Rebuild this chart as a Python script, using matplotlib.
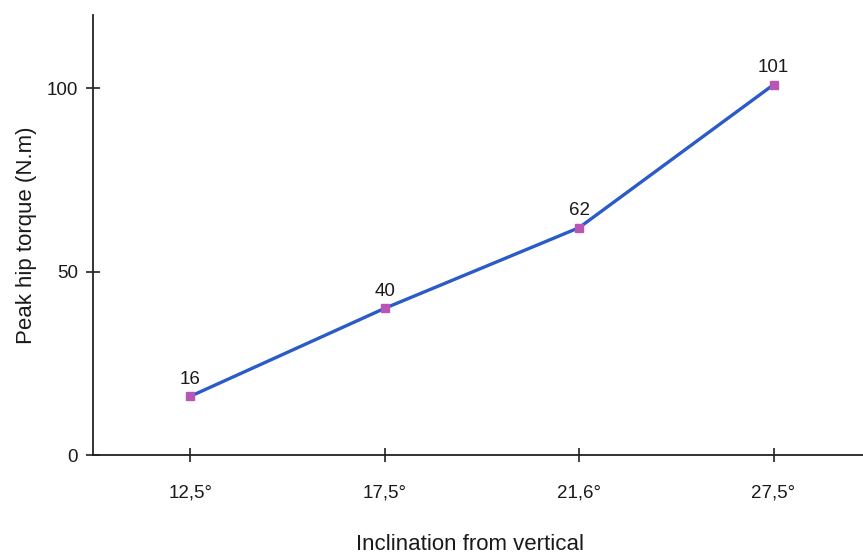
import matplotlib
matplotlib.use("Agg")
import matplotlib.pyplot as plt

categories = ["12,5°", "17,5°", "21,6°", "27,5°"]
torque = [16, 40, 62, 101]
yticks = [0, 50, 100]

plt.rcParams['font.family'] = ['Liberation Sans', 'DejaVu Sans']

fig = plt.figure(figsize=(8.63, 5.58), dpi=100)
ax = fig.add_axes([93/863, 1-455/558, 1-93/863, (455-15)/558])

x = list(range(len(categories)))
ax.plot(x, torque, color="#2a5bc8", lw=2.4, zorder=3)
ax.plot(x, torque, ls="none", marker="s", ms=6, color="#b955b5", zorder=4)
for xi, v in zip(x, torque):
    ax.annotate(str(v), (xi, v), xytext=(0, 6), textcoords="offset points",
                ha="center", va="bottom", fontsize=13.5, color="#1a1a1a")

ax.set_xlim(-0.5, 3.46)
ax.set_ylim(0, 120)
ax.set_xticks(x)
ax.set_xticklabels(categories)
ax.set_yticks(yticks)

for s in ["top", "right"]:
    ax.spines[s].set_visible(False)
for s in ["left", "bottom"]:
    ax.spines[s].set_color("#222222")
    ax.spines[s].set_linewidth(1.3)

ax.tick_params(axis="both", direction="inout", length=10, width=1.2, color="#222222",
               labelsize=13.5, labelcolor="#1a1a1a")
ax.tick_params(axis="x", pad=16)
ax.tick_params(axis="y", pad=6)

ax.set_xlabel("Inclination from vertical", fontsize=16, color="#1a1a1a", labelpad=25)
ax.xaxis.set_label_coords(0.49, -0.18)
ax.set_ylabel("Peak hip torque (N.m)", fontsize=16, color="#1a1a1a", labelpad=7)

fig.savefig("out.png", dpi=100)
